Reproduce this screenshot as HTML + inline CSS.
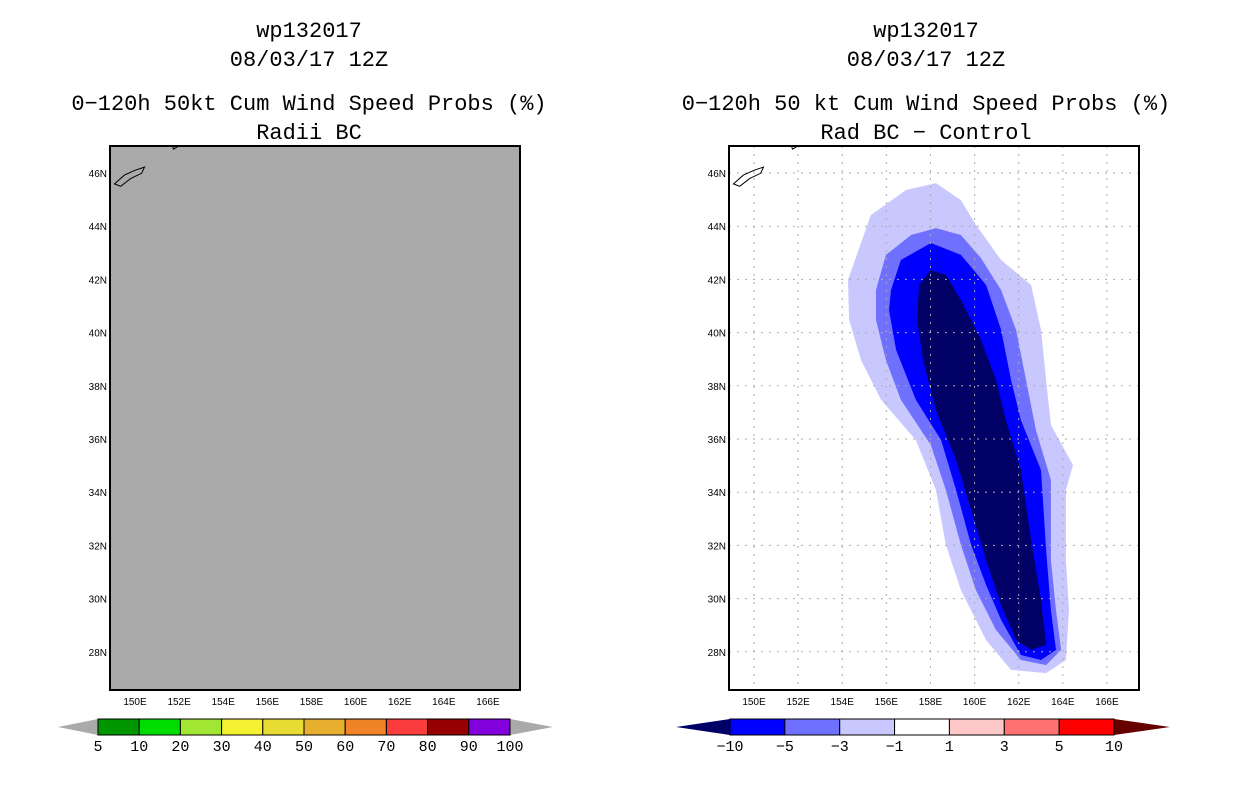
<!DOCTYPE html>
<html><head><meta charset="utf-8"><style>
body{margin:0;background:#fff;}
svg{display:block;font-family:"Liberation Sans",sans-serif;}
</style></head><body>
<svg id="c" width="1236" height="800"></svg>
<script>
const lonTicks=[150,152,154,156,158,160,162,164,166];
const latTicks=[28,30,32,34,36,38,40,42,44,46];
const probLevels=["5","10","20","30","40","50","60","70","80","90","100"];
const probColors=["#009600","#00dc00","#a0e632","#f5f032","#e6dc32","#e6af2d","#f08228","#fa3c3c","#960000","#8200dc"];
const diffLevels=["\u221210","\u22125","\u22123","\u22121","1","3","5","10"];
const diffColors=["#0000ff","#7070ff","#c8c8ff","#ffffff","#ffc8c8","#ff7070","#ff0000"];
const contourLight=[[154.26,41.98],[155.30,44.42],[156.89,45.36],[158.25,45.62],[159.38,44.98],[160.06,44.05],[161.20,42.73],[162.56,41.79],[163.01,40.10],[163.24,38.22],[163.46,36.53],[164.46,35.02],[164.14,34.08],[164.14,31.45],[164.28,29.57],[164.14,27.69],[163.24,27.20],[161.65,27.32],[160.52,28.44],[159.38,30.32],[158.70,32.02],[158.25,34.08],[157.34,35.96],[155.76,37.47],[154.85,38.97],[154.31,40.47]];
const contourMedium=[[155.53,41.60],[155.98,42.92],[157.12,43.67],[158.25,43.93],[159.38,43.67],[160.29,42.80],[161.20,41.60],[161.88,40.10],[162.33,38.22],[162.78,36.34],[163.46,34.46],[163.46,31.45],[163.69,29.57],[163.92,28.07],[163.24,27.50],[162.10,27.69],[160.97,28.82],[160.06,30.32],[159.38,32.02],[158.70,34.08],[158.02,35.77],[156.66,37.47],[155.98,38.97],[155.53,40.47]];
const contourBlue=[[156.21,41.60],[156.66,42.73],[158.02,43.37],[159.38,42.92],[160.52,41.79],[161.20,40.10],[161.65,38.22],[162.10,36.71],[163.01,34.83],[163.24,31.83],[163.46,29.57],[163.69,28.07],[163.01,27.69],[162.10,27.88],[161.20,29.20],[160.52,30.51],[159.84,32.02],[159.16,34.08],[158.48,35.96],[157.34,37.47],[156.44,39.35],[156.12,40.85]];
const contourNavy=[[157.48,41.79],[158.02,42.35],[158.70,42.17],[159.38,41.23],[160.29,39.72],[160.97,38.22],[161.42,36.71],[162.10,34.83],[162.56,32.20],[163.01,29.95],[163.24,28.26],[162.56,28.07],[161.88,28.44],[161.20,29.76],[160.52,31.45],[159.84,33.33],[159.16,35.21],[158.25,37.09],[157.66,38.97],[157.39,40.47]];
const island=[[149.07,45.59],[149.52,45.92],[150.0,46.10],[150.43,46.22],[150.30,45.99],[149.80,45.79],[149.35,45.50]];
const islet=[[151.70,47.0],[151.95,47.1],[152.05,47.05],[151.75,46.9]];

const NS="http://www.w3.org/2000/svg";
const svg=document.getElementById('c');
function mk(t,a,p){const e=document.createElementNS(NS,t);for(const k in a)e.setAttribute(k,a[k]);(p||svg).appendChild(e);return e;}
const PW=410,PH=544,Y0=146,ppd=22.06,ppl=26.6;
function panel(x0,name){
  const g=mk('g',{});
  
  
  const xs=lon=>x0+25+(lon-150)*ppd;
  const ys=lat=>173+(46-lat)*ppl;
  return {g,xs,ys,x0};
}
function poly(P,pts,fill,stroke,name){
  const d=pts.map(p=>P.xs(p[0]).toFixed(1)+','+P.ys(p[1]).toFixed(1)).join(' ');
  const e=mk('polygon',{points:d,fill:fill,stroke:stroke||'none','stroke-width':1},P.g);
  
  
  return e;
}
function text(x,y,s,size,anchor,name,p,mono){
  const e=mk('text',{x:x,y:y,'font-size':size,'text-anchor':anchor||'middle',fill:'#000'},p);
  if(mono)e.setAttribute('font-family','"Liberation Mono",monospace');
  e.textContent=s;
  
  
  return e;
}
function build(x0,name,diff){
  const P=panel(x0,name);
  const clip=mk('clipPath',{id:'cl'+x0},P.g);
  mk('rect',{x:x0,y:Y0,width:PW,height:PH},clip);
  const bg=mk('rect',{x:x0,y:Y0,width:PW,height:PH,fill:diff?'#fff':'#aaaaaa'},P.g);
  
  
  const inner=mk('g',{'clip-path':'url(#cl'+x0+')'},P.g);
  const Q={g:inner,xs:P.xs,ys:P.ys};
  if(diff){
    poly(Q,contourLight,'#c8c8ff',null,'contour-minus1');
    poly(Q,contourMedium,'#7070ff',null,'contour-minus3');
    poly(Q,contourBlue,'#0000ff',null,'contour-minus5');
    poly(Q,contourNavy,'#000066',null,'contour-minus10');
    lonTicks.forEach(l=>{const e=mk('line',{x1:P.xs(l),x2:P.xs(l),y1:Y0,y2:Y0+PH,stroke:'#aaa','stroke-dasharray':'2,6'},inner);
      });
    latTicks.forEach(l=>{const e=mk('line',{x1:x0,x2:x0+PW,y1:P.ys(l),y2:P.ys(l),stroke:'#aaa','stroke-dasharray':'2,6'},inner);
      });
  }
  poly(Q,island,'none','#000','island');
  poly(Q,islet,'none','#000','islet');
  const b=mk('rect',{x:x0,y:Y0,width:PW,height:PH,fill:'none',stroke:'#000','stroke-width':2},P.g);
  
  lonTicks.forEach(l=>text(P.xs(l),705,l+'E',10,'middle','x-tick-label',P.g));
  latTicks.forEach(l=>text(x0-3,P.ys(l)+4,l+'N',10,'end','y-tick-label',P.g));
  return P;
}
function colorbar(x1,x2,colors,labels,left,right,name){
  const g=mk('g',{});
  
  const yT=719,yB=735,ym=727,w=(x2-x1)/colors.length;
  const lt=mk('polygon',{points:`${x1},${yT} ${x1},${yB} ${left[1]},${ym}`,fill:left[0]},g);
  
  const rt=mk('polygon',{points:`${x2},${yT} ${x2},${yB} ${right[1]},${ym}`,fill:right[0]},g);
  
  colors.forEach((c,i)=>{const r=mk('rect',{x:x1+i*w,y:yT,width:w,height:yB-yT,fill:c,stroke:'#000','stroke-width':1},g);
    });
  labels.forEach((s,i)=>text(x1+i*w,751,s,15,'middle','colorbar-label',g,true));
}
build(110,'left-panel',false);
build(729,'right-panel',true);
colorbar(98,510,probColors,probLevels,['#aaaaaa',58],['#aaaaaa',553],'prob-colorbar');
colorbar(730,1114,diffColors,diffLevels,['#000066',676],['#660000',1170],'diff-colorbar');
[[309,'wp132017',37],[309,'08/03/17 12Z',66],[309,'0\u2212120h 50kt Cum Wind Speed Probs (%)',110],[309,'Radii BC',139],
 [926,'wp132017',37],[926,'08/03/17 12Z',66],[926,'0\u2212120h 50 kt Cum Wind Speed Probs (%)',110],[926,'Rad BC \u2212 Control',139]]
 .forEach(t=>text(t[0],t[2],t[1],22,'middle','title-line',null,true));
</script>
</body></html>
